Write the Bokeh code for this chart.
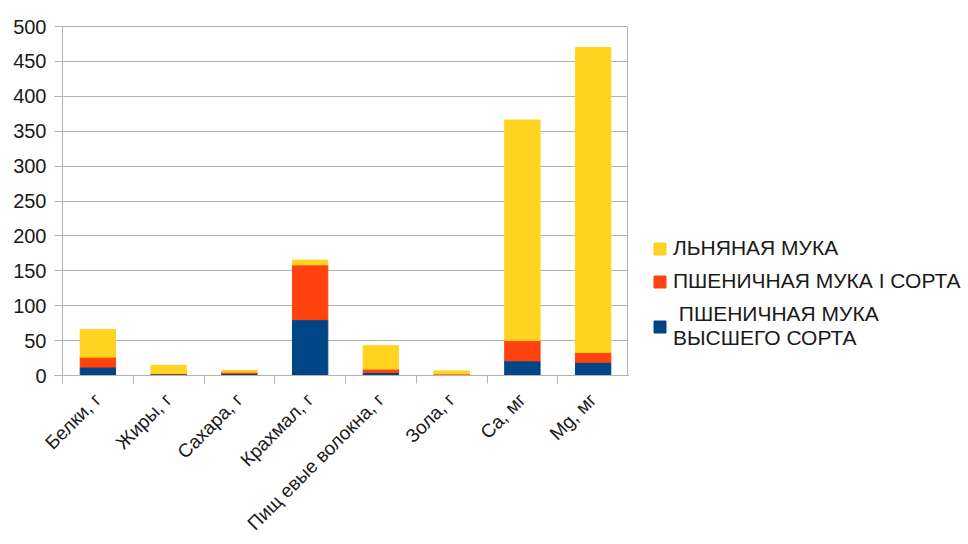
from bokeh.plotting import figure
from bokeh.layouts import row
from bokeh.models import ColumnDataSource, FixedTicker, SingleIntervalTicker, Legend, LegendItem
from bokeh.embed import file_html
from bokeh.resources import INLINE
import math

categories = ["Белки, г", "Жиры, г", "Сахара, г", "Крахмал, г",
              "Пищ евые волокна, г", "Зола, г", "Ca, мг", "Mg, мг"]
wheat_premium = [12.0, 2.2, 2.9, 80.0, 4.4, 0.5, 21.0, 19.0]   # ПШЕНИЧНАЯ МУКА ВЫСШЕГО СОРТА
wheat_first = [14.3, 0.6, 1.9, 78.5, 4.8, 1.8, 29.0, 14.0]      # ПШЕНИЧНАЯ МУКА I СОРТА
flax = [39.7, 11.8, 2.4, 6.7, 33.5, 4.3, 316.0, 437.0]          # ЛЬНЯНАЯ МУКА
series_names = [" ПШЕНИЧНАЯ МУКА\nВЫСШЕГО СОРТА", "ПШЕНИЧНАЯ МУКА I СОРТА", "ЛЬНЯНАЯ МУКА"]
colors = ["#004586", "#ff420e", "#ffd320"]

n = len(categories)
xpos = [i + 0.5 for i in range(n)]
source = ColumnDataSource(dict(x=xpos, s0=wheat_premium, s1=wheat_first, s2=flax))

FONT = "Liberation Sans"
GRID = "#b3b3b3"
TXT = "#1a1a1a"
H = 544

p = figure(width=628, height=H, x_range=(0, n), y_range=(0, 500),
           output_backend="svg", toolbar_location=None,
           min_border_left=62, min_border_top=26, min_border_right=0, min_border_bottom=H - 375)
p.background_fill_color = "white"
p.border_fill_color = "white"
p.outline_line_color = GRID

renderers = p.vbar_stack(["s0", "s1", "s2"], x="x", width=0.5, color=colors,
                         line_color=colors, source=source)

# x axis: boundary ticks as minor ticks, labels at category centres
xa = p.xaxis[0]
xa.ticker = FixedTicker(ticks=xpos, minor_ticks=list(range(n + 1)))
xa.major_label_overrides = {x: c for x, c in zip(xpos, categories)}
xa.major_tick_out = 0
xa.major_tick_in = 0
xa.minor_tick_out = 8
xa.minor_tick_in = 0
xa.minor_tick_line_color = GRID
xa.axis_line_color = GRID
xa.major_label_orientation = math.pi / 4
xa.major_label_standoff = 13
xa.major_label_text_font = FONT
xa.major_label_text_font_size = "19px"
xa.major_label_text_color = TXT

# y axis
ya = p.yaxis[0]
ya.ticker = SingleIntervalTicker(interval=50, num_minor_ticks=0)
ya.major_tick_out = 8
ya.major_tick_in = 0
ya.major_tick_line_color = GRID
ya.axis_line_color = GRID
ya.minor_tick_line_color = None
ya.major_label_standoff = 8
ya.major_label_text_font = FONT
ya.major_label_text_font_size = "20px"
ya.major_label_text_color = TXT

p.xgrid.visible = False
p.ygrid.grid_line_color = GRID
p.ygrid.ticker = SingleIntervalTicker(interval=50)

# legend panel (separate figure to the right, frame aligned with the chart's)
q = figure(width=338, height=H, x_range=(0, 1), y_range=(0, 1),
           output_backend="svg", toolbar_location=None,
           x_axis_location=None, y_axis_location=None,
           min_border_left=0, min_border_right=0, min_border_top=0, min_border_bottom=0)
q.outline_line_color = None
q.background_fill_color = "white"
q.border_fill_color = "white"
q.xgrid.visible = False
q.ygrid.visible = False
dummy_src = ColumnDataSource(dict(x=[-10], top=[0]))
dummies = [q.vbar(x="x", top="top", width=0.5, color=c, source=dummy_src) for c in colors]

items = [LegendItem(label=series_names[i], renderers=[dummies[i]]) for i in [2, 1, 0]]
legend = Legend(items=items, location=(24, 25))
legend.border_line_color = None
legend.background_fill_alpha = 0
legend.glyph_width = 15
legend.glyph_height = 15
legend.label_height = 24
legend.label_text_font = FONT
legend.label_text_font_size = "21px"
legend.label_text_color = TXT
legend.label_standoff = 6
legend.spacing = 9
legend.padding = 0
legend.margin = 0
q.add_layout(legend, "center")

layout = row(p, q)
open("out.html", "w").write(file_html(layout, INLINE))
